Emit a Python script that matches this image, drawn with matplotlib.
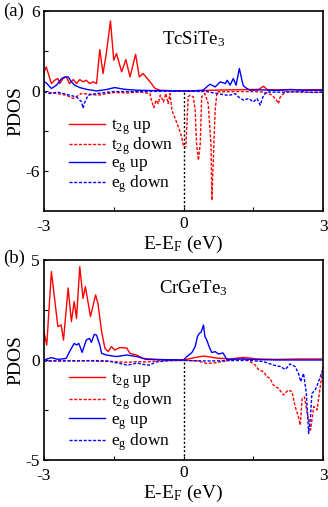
import matplotlib
matplotlib.use('Agg')
import matplotlib.pyplot as plt

plt.rcParams['font.family'] = 'Liberation Serif'
plt.rcParams['mathtext.fontset'] = 'custom'
plt.rcParams['mathtext.rm'] = 'Liberation Serif'
plt.rcParams['mathtext.it'] = 'Liberation Serif'
plt.rcParams['axes.unicode_minus'] = False

# ---- panel (a): TcSiTe3 ----
a_t2g_up_x = [-3.0, -2.95, -2.84, -2.77, -2.70, -2.66, -2.59, -2.52, -2.45, -2.37, -2.30, -2.23, -2.16,
              -2.09, -2.02, -1.94, -1.87, -1.80, -1.73, -1.66, -1.57, -1.50, -1.44, -1.33, -1.24, -1.15,
              -1.03, -0.95, -0.87, -0.72, -0.61, -0.50, -0.3, 0.0, 0.3, 0.6, 1.0, 1.4, 1.62, 1.72, 1.80,
              2.0, 2.3, 2.6, 3.0]
a_t2g_up_y = [1.4, 1.8, 0.55, 0.8, 0.93, 0.55, 0.93, 1.05, 0.55, 0.85, 0.55, 0.85, 0.68,
              0.8, 0.55, 0.68, 0.55, 3.1, 1.3, 2.8, 5.25, 2.3, 2.8, 1.43, 2.35, 1.05,
              2.75, 1.05, 1.3, 0.68, 0.18, 0.05, 0.02, 0.0, 0.02, 0.05, 0.08, 0.1, 0.12, 0.35, 0.1,
              0.08, 0.1, 0.08, 0.1]

a_t2g_dn_x = [-3.0, -2.8, -2.52, -2.37, -2.2, -2.0, -1.84, -1.5, -1.2, -0.94, -0.72, -0.69, -0.64, -0.59,
              -0.54, -0.50, -0.43, -0.38, -0.33, -0.29, -0.25, -0.18, -0.11, -0.04, 0.0, 0.05, 0.10, 0.14,
              0.21, 0.25, 0.28, 0.32, 0.36, 0.39, 0.46, 0.53, 0.59, 0.61, 0.64, 0.68, 0.72, 1.0, 1.5, 1.72,
              1.9, 2.0, 2.04, 2.08, 2.2, 2.6, 3.0]
a_t2g_dn_y = [-0.1, -0.15, -0.32, -0.57, -0.2, -0.25, -0.32, -0.12, -0.15, -0.08, -0.2, -0.7, -1.25, -0.7,
              -0.95, -0.32, -0.83, -0.2, -0.95, -0.2, -1.45, -2.07, -2.7, -3.45, -4.2, -4.2, -0.45, -0.32,
              -0.45, -1.45, -3.95, -5.2, -3.95, -0.45, -0.2, -0.95, -3.95, -8.2, -5.2, -1.45, -0.08, -0.05, -0.05, -0.08,
              -0.3, -0.7, -0.95, -0.45, -0.05, -0.1, -0.1]

a_eg_up_x = [-3.0, -2.95, -2.84, -2.73, -2.62, -2.55, -2.48, -2.41, -2.34, -2.23, -2.09, -1.87, -1.66,
             -1.48, -1.27, -1.0, -0.6, -0.2, 0.2, 0.42, 0.5, 0.57, 0.68, 0.79, 0.90, 0.94, 1.0, 1.07,
             1.13, 1.2, 1.28, 1.33, 1.43, 1.7, 2.0, 2.3, 2.6, 3.0]
a_eg_up_y = [0.7, 0.6, 0.18, 0.43, 0.93, 1.05, 1.05, 0.68, 0.43, 0.25, 0.12, 0.0, 0.1,
             0.25, 0.12, 0.05, 0.02, 0.0, 0.0, 0.05, 0.3, 0.5, 0.3, 0.68, 0.55, 0.8, 0.43, 0.93,
             0.43, 1.68, 0.43, 0.25, 0.05, 0.08, 0.03, 0.1, 0.05, 0.05]

a_eg_dn_x = [-3.0, -2.88, -2.7, -2.45, -2.30, -2.19, -2.16, -2.12, -2.05, -1.87, -1.5, -1.0, -0.5, 0.0,
             0.5, 0.72, 0.93, 1.0, 1.11, 1.18, 1.29, 1.4, 1.5, 1.58, 1.65, 1.72, 1.79, 2.1, 2.5, 2.8, 3.0]
a_eg_dn_y = [-0.05, -0.2, -0.1, -0.32, -0.45, -0.83, -1.3, -0.83, -0.32, -0.2, -0.05, -0.05, -0.03, -0.02,
             -0.05, -0.2, -0.32, -0.32, -0.2, -0.45, -0.7, -0.57, -0.83, -0.57, -1.07, -0.32, -0.08, -0.1,
             -0.05, -0.12, -0.08]

# ---- panel (b): CrGeTe3 ----
b_t2g_up_x = [-3.0, -2.94, -2.84, -2.73, -2.70, -2.63, -2.58, -2.48, -2.41, -2.35, -2.30, -2.23, -2.16,
              -2.11, -2.0, -1.89, -1.84, -1.76, -1.69, -1.62, -1.55, -1.48, -1.37, -1.22, -1.15, -1.01,
              -0.87, -0.6, -0.3, 0.0, 0.2, 0.43, 0.7, 1.0, 1.29, 1.6, 2.0, 2.5, 3.0]
b_t2g_up_y = [1.4, 0.75, 4.42, 2.25, 1.67, 1.75, 1.0, 3.6, 1.92, 2.92, 2.08, 4.67, 3.08,
              3.67, 2.17, 3.25, 2.83, 1.42, 0.58, 0.42, 0.67, 0.5, 0.62, 0.6, 0.33, 0.25,
              0.08, 0.03, 0.0, 0.0, 0.1, 0.2, 0.1, 0.05, 0.13, 0.05, 0.03, 0.05, 0.05]

b_t2g_dn_x = [-3.0, -2.5, -2.0, -1.5, -1.2, -1.0, -0.8, -0.5, 0.0, 0.3, 0.5, 0.65, 0.9, 1.0, 1.32, 1.54,
              1.62, 1.72, 1.79, 1.86, 1.93, 2.04, 2.15, 2.25, 2.33, 2.40, 2.47, 2.51, 2.55, 2.60, 2.66,
              2.73, 2.77, 2.80, 2.87, 2.90, 2.94, 2.98, 3.0]
b_t2g_dn_y = [-0.05, -0.03, -0.05, -0.08, -0.12, -0.08, -0.1, -0.03, -0.02, -0.05, -0.17, -0.15, -0.05,
              0.0, 0.08, -0.25, -0.5, -0.58, -0.83, -0.92, -1.25, -1.42, -1.75, -1.5, -1.58, -2.33,
              -2.83, -3.25, -1.92, -1.85, -2.67, -3.5, -2.83, -2.33, -2.5, -2.0, -1.33, -0.67, -0.3]

b_eg_up_x = [-3.0, -2.84, -2.7, -2.52, -2.45, -2.35, -2.30, -2.25, -2.18, -2.09, -2.02, -1.98, -1.92,
             -1.87, -1.80, -1.76, -1.66, -1.44, -1.22, -1.0, -0.8, -0.5, 0.0, 0.07, 0.18, 0.25, 0.30,
             0.34, 0.38, 0.43, 0.46, 0.50, 0.55, 0.61, 0.68, 0.75, 0.85, 0.93, 1.2, 1.6, 2.0, 2.5, 3.0]
b_eg_up_y = [0.0, 0.12, 0.03, 0.08, 0.42, 0.83, 0.75, 0.83, 0.38, 1.0, 1.08, 0.88, 1.28,
             1.25, 0.75, 0.33, 0.25, 0.17, 0.25, 0.17, 0.03, 0.02, 0.0, 0.17, 0.37, 0.67, 1.17,
             1.33, 1.4, 1.75, 1.17, 1.0, 0.67, 0.37, 0.42, 0.3, 0.35, 0.03, 0.05, 0.02, 0.0, 0.0, 0.0]

b_eg_dn_x = [-3.0, -2.5, -2.0, -1.6, -1.48, -1.37, -1.22, -1.12, -1.0, -0.8, -0.72, -0.6, -0.3, 0.0,
             0.5, 1.0, 1.4, 1.72, 1.93, 2.08, 2.19, 2.29, 2.40, 2.47, 2.52, 2.58, 2.64, 2.69, 2.73,
             2.76, 2.83, 2.89, 2.94, 2.98, 3.0]
b_eg_dn_y = [-0.05, -0.05, -0.03, -0.05, -0.12, -0.17, -0.25, -0.22, -0.15, -0.25, -0.25, -0.1, -0.03,
             -0.02, -0.05, -0.03, -0.02, -0.08, -0.25, -0.33, -0.47, -0.2, -0.33, -0.67, -1.08, -0.67,
             -1.67, -3.67, -2.83, -1.67, -1.5, -1.17, -0.83, -0.58, -0.4]

labels = ['t$_{2g}$ up', 't$_{2g}$ down', 'e$_g$ up', 'e$_g$ down']
xtick_vals = [-3, 0, 3]
xtick_labels = ['-3', '', '3']

fig = plt.figure(figsize=(3.28, 5.07), dpi=100)
ax1 = fig.add_axes([0.134, 0.584, 0.851, 0.3945])
ax2 = fig.add_axes([0.134, 0.0927, 0.851, 0.3945])

dash = (0, (2.2, 1.2))
panels = [
    (ax1, a_t2g_up_x, a_t2g_up_y, a_t2g_dn_x, a_t2g_dn_y, a_eg_up_x, a_eg_up_y, a_eg_dn_x, a_eg_dn_y,
     (-9, 6), [-6, 0, 6], [-3, 3], 'TcSiTe$_3$', '(a)', 1.0, 0.50, -0.1),
    (ax2, b_t2g_up_x, b_t2g_up_y, b_t2g_dn_x, b_t2g_dn_y, b_eg_up_x, b_eg_up_y, b_eg_dn_x, b_eg_dn_y,
     (-5, 5), [-5, 0, 5], [-2.5, 2.5], 'CrGeTe$_3$', '(b)', 1.01, 0.48, 0.0),
]

for (ax, tux, tuy, tdx, tdy, eux, euy, edx, edy, ylim, yt, ymt, name, tag,
     tag_y, leg_top, leg_sp) in panels:
    l1, = ax.plot(tux, tuy, color='red', lw=1.0)
    l2, = ax.plot(tdx, tdy, color='red', lw=1.0, ls=dash)
    l3, = ax.plot(eux, euy, color='blue', lw=1.0)
    l4, = ax.plot(edx, edy, color='blue', lw=1.0, ls=dash)
    ax.plot([0, 0], [ylim[0], 0], color='black', lw=1.0, ls=(0, (1.5, 1.5)))
    ax.set_xlim(-3, 3)
    ax.set_ylim(*ylim)
    ax.set_xticks(xtick_vals)
    ax.set_xticklabels(xtick_labels)
    ax.set_xticks([-1.5, 1.5], minor=True)
    ax.set_yticks(yt)
    ax.set_yticks(ymt, minor=True)
    ax.tick_params(direction='in', which='both', labelsize=12.5, length=3, width=0.8)
    ax.tick_params(axis='x', pad=6)
    ax.tick_params(axis='y', pad=3)
    for sp in ax.spines.values():
        sp.set_linewidth(1.2)
    # the "0" tick label sits a little higher than -3 and 3 in the original
    ax.text(0, -0.025, '0', transform=ax.get_xaxis_transform(), fontsize=12.5,
            ha='center', va='top')
    ax.set_xlabel('E-E$_F$ (eV)', fontsize=14, labelpad=-1)
    ax.set_ylabel('PDOS', fontsize=14, labelpad=1)
    ax.text(0.535, 0.86, name, transform=ax.transAxes, fontsize=13.5, ha='center', va='center')
    ax.text(-0.147, tag_y, tag, transform=ax.transAxes, fontsize=13.5, ha='left', va='center')
    ax.legend([l1, l2, l3, l4], labels, loc='upper left', bbox_to_anchor=(0.065, leg_top),
              frameon=False, fontsize=12.5, handlelength=2.1, handletextpad=0.3,
              labelspacing=leg_sp, borderaxespad=0)

fig.savefig('out.png', dpi=100)
